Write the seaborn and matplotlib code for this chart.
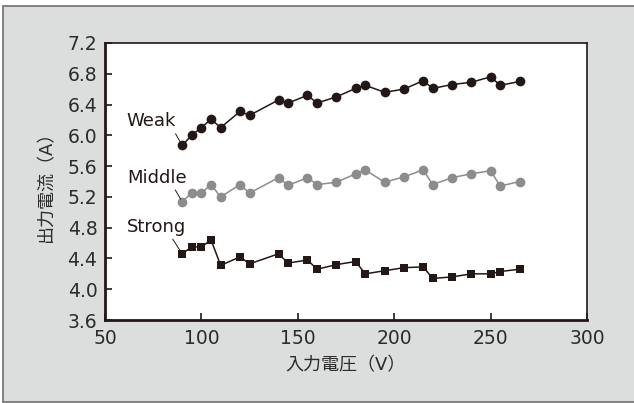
import matplotlib
matplotlib.use("Agg")
import matplotlib.pyplot as plt
import seaborn as sns
import pandas as pd
from matplotlib.patches import Rectangle

# input voltage (V)
voltage = [90, 95, 100, 105, 110, 120, 125, 140, 145, 155, 160, 170,
           180, 185, 195, 205, 215, 220, 230, 240, 250, 255, 265]

# output current (A) per setting
weak = [5.87, 6.00, 6.10, 6.21, 6.10, 6.31, 6.26, 6.46, 6.42, 6.52, 6.42, 6.50,
        6.61, 6.65, 6.56, 6.60, 6.71, 6.61, 6.66, 6.69, 6.76, 6.65, 6.70]
middle = [5.14, 5.25, 5.25, 5.36, 5.20, 5.36, 5.25, 5.45, 5.35, 5.45, 5.36, 5.39,
          5.50, 5.55, 5.39, 5.46, 5.55, 5.36, 5.45, 5.50, 5.54, 5.34, 5.40]
strong = [4.46, 4.55, 4.55, 4.64, 4.31, 4.42, 4.33, 4.46, 4.34, 4.38, 4.26, 4.32,
          4.36, 4.20, 4.24, 4.28, 4.29, 4.14, 4.16, 4.20, 4.20, 4.23, 4.26]

series_names = ["Weak", "Middle", "Strong"]
yticks = [3.6, 4.0, 4.4, 4.8, 5.2, 5.6, 6.0, 6.4, 6.8, 7.2]
xticks = [50, 100, 150, 200, 250, 300]

df = pd.DataFrame({"voltage": voltage * 3,
                   "current": weak + middle + strong,
                   "mode": sum([[n] * len(voltage) for n in series_names], [])})

sns.set_style("ticks")
plt.rcParams["font.family"] = ["DejaVu Sans", "Noto Sans CJK JP"]

dark = "#231815"
gray = "#8c8c8c"
txt = "#2b2b2b"
palette = {"Weak": dark, "Middle": gray, "Strong": dark}
markers = {"Weak": "o", "Middle": "o", "Strong": "s"}

fig = plt.figure(figsize=(6.34, 4.03), dpi=100, facecolor="white")
# gray panel behind the chart
panel = Rectangle((3 / 634, 1 - 402 / 403), 1.0, 396 / 403,
                  transform=fig.transFigure, facecolor="#dcdddd",
                  edgecolor="#6e6e6e", linewidth=1.2, zorder=-10)
fig.add_artist(panel)
ax = fig.add_axes([105 / 634, 1 - 320 / 403, 482 / 634, 277 / 403])
ax.set_facecolor("white")
ax.set_zorder(1)

sns.lineplot(data=df, x="voltage", y="current", hue="mode", style="mode",
             palette=palette, markers=markers, dashes=False, markersize=7,
             markeredgewidth=0, linewidth=1.1, legend=False, ax=ax)
# squares a bit smaller
for line in ax.lines:
    if line.get_marker() == "s":
        line.set_markersize(6.3)

ax.set_xlim(50, 300)
ax.set_ylim(3.6, 7.2)
ax.set_xticks(xticks)
ax.set_yticks(yticks)
ax.set_yticklabels([f"{v:.1f}" for v in yticks])
ax.tick_params(direction="in", length=5, width=1.2, colors=dark,
               labelsize=13.5, labelcolor=txt, top=False, right=False)
ax.tick_params(axis="y", pad=5.5)
ax.tick_params(axis="x", pad=6.5)
for side in ["left", "bottom"]:
    ax.spines[side].set_linewidth(2.0)
for side in ["top", "right"]:
    ax.spines[side].set_linewidth(1.2)
for s in ax.spines.values():
    s.set_color(dark)

ax.set_xlabel("入力電圧（V）", fontsize=13, color=txt, labelpad=6)
ax.set_ylabel("出力電流（A）", fontsize=13, color=txt, labelpad=9)

# series labels with leader lines to the first point
label_pos = {"Weak": (61.3, 6.18), "Middle": (61.3, 5.45), "Strong": (61.3, 4.81)}
relx = {"Weak": 0.95, "Middle": 0.78, "Strong": 0.74}
series_vals = {"Weak": weak, "Middle": middle, "Strong": strong}
for name in series_names:
    ax.annotate(name, xy=(voltage[0], series_vals[name][0]), xytext=label_pos[name],
                fontsize=13, color=dark, va="center", ha="left",
                arrowprops=dict(arrowstyle="-", color=dark, lw=0.7,
                                relpos=(relx[name], 0.0), shrinkA=0, shrinkB=2))

fig.savefig("out.png", dpi=100, facecolor=fig.get_facecolor())
